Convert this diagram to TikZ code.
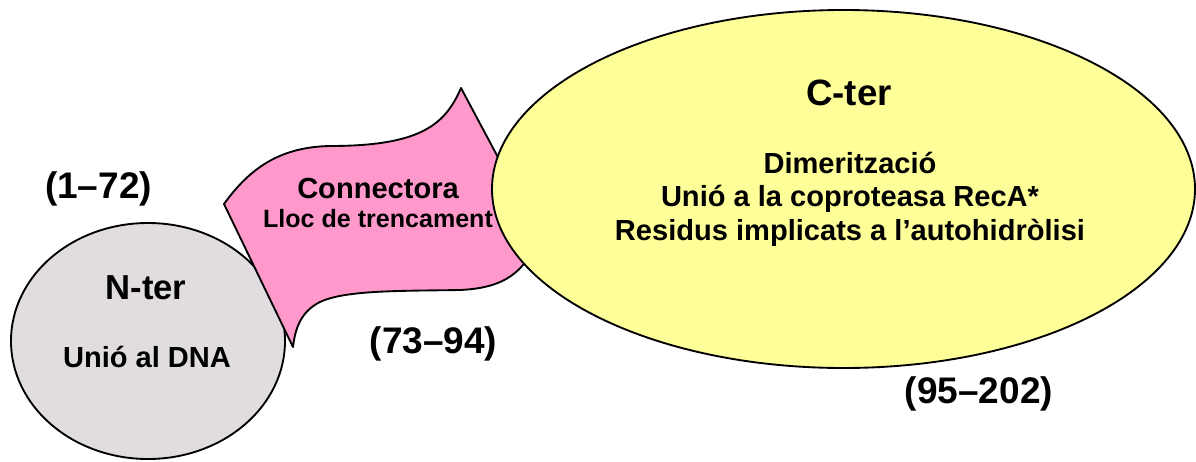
\documentclass[tikz,border=0pt]{standalone}
\usepackage{fontspec}
\setmainfont{Liberation Sans}
\usetikzlibrary{shapes.geometric}
\begin{document}
\begin{tikzpicture}[x=0.75pt,y=-0.75pt,
  blob/.style={draw=black,line width=1.4pt,ellipse,inner sep=0pt},
  outl/.style={draw=black,line width=1.4pt,line join=round},
  txt/.style={anchor=base,inner sep=0pt,align=center},
  rng/.style={txt,font=\bfseries\fontsize{27.75}{30}\selectfont},
  big/.style={txt,font=\bfseries\fontsize{27.5}{30}\selectfont},
  mid/.style={txt,font=\bfseries\fontsize{21.8}{25}\selectfont},
  sml/.style={txt,font=\bfseries\fontsize{18.8}{22}\selectfont}]
\definecolor{grayfill}{HTML}{E0DCE0}
\definecolor{pinkfill}{HTML}{FF99CC}
\definecolor{yellowfill}{HTML}{FFFF99}
\useasboundingbox (0,0) rectangle (1196,461);
% N-ter domain
\node[blob,fill=grayfill,minimum width=205.5pt,minimum height=177pt] (nter) at (148,341) {};
% connector (linker) shape
\path[outl,fill=pinkfill]
  (224,204) coordinate (ltip)
  .. controls (250,168) and (280,147) .. (330,146)
  .. controls (420,146) and (445,125) .. (461,88) coordinate (peak)
  -- (540,236)
  .. controls (525,272) and (505,288) .. (460,290)
  .. controls (400,291) and (345,290) .. (320,302)
  .. controls (300,312) and (295,330) .. (293,347) coordinate (btip)
  -- cycle;
% C-ter domain
\node[blob,fill=yellowfill,minimum width=527.25pt,minimum height=268.5pt] (cter) at (843.5,189) {};
% texts
\node[rng] (r1) at (98.5,198) {(1–72)};
\node[rng] (r2) at (433.5,353) {(73–94)};
\node[rng] (r3) at (979,403) {(95–202)};
\node[big] (ct) at (849,105) {C-ter};
\node[mid] (c1) at (850,173) {Dimerització};
\node[mid] (c2) at (850,206) {Unió a la coproteasa RecA*};
\node[mid] (c3) at (850,240) {Residus implicats a l’autohidròlisi};
\node[mid] (k1) at (378,198) {Connectora};
\node[sml] (k2) at (378,227) {Lloc de trencament};
\node[txt,font=\bfseries\fontsize{26}{30}\selectfont] (nt) at (146,299) {N-ter};
\node[mid] (n1) at (147,367) {Unió al DNA};
\end{tikzpicture}
\end{document}
